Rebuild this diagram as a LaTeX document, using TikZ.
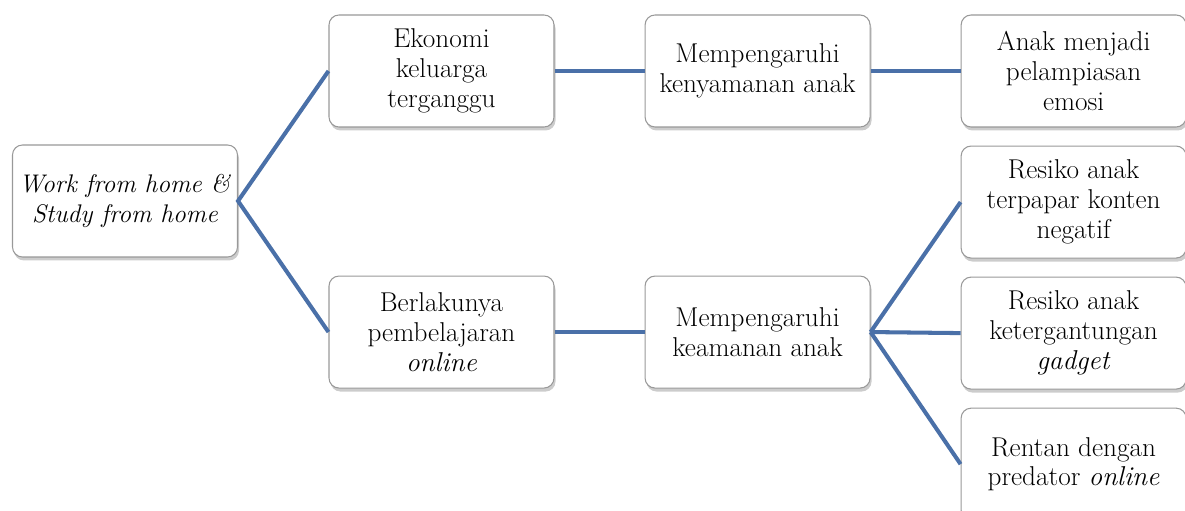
\documentclass[tikz,border=0pt]{standalone}
\usepackage{xcolor}
\usepackage{tikz}
\usetikzlibrary{positioning, shadows, calc}
\definecolor{linkblue}{RGB}{74,112,168}
\tikzstyle{link} = [line width=2.3pt, draw=linkblue]
\tikzstyle{box} = [rectangle, rounded corners=0.2cm, minimum width=4.5cm, minimum height=2.24cm, inner xsep=0.05cm, align=center, draw=gray!80, line width=0.6pt, fill=white, drop shadow={shadow xshift=0.03cm, shadow yshift=-0.07cm, opacity=0.4}, font=\fontsize{15.5}{17}\selectfont]

\begin{document}
\begin{tikzpicture}[node distance=0.36cm and 1.8cm]
    \useasboundingbox (0,0) rectangle (23.7,10.22);

    % Root
    \node[box, font=\fontsize{14.5}{17}\selectfont] (wfh) at (2.5,6.2) {\textit{Work from home \&}\\\textit{Study from home}};

    % Upper branch
    \node[box] (ekonomi) at (8.83,8.8) {Ekonomi\\keluarga\\terganggu};
    \node[box, right=of ekonomi] (nyaman) {Mempengaruhi\\kenyamanan anak};
    \node[box, right=of nyaman] (emosi) {Anak menjadi\\pelampiasan\\emosi};

    % Lower branch
    \node[box, below=2.96cm of ekonomi] (daring) {Berlakunya\\pembelajaran\\\textit{online}};
    \node[box, right=of daring] (aman) {Mempengaruhi\\keamanan anak};

    % Right column
    \node[box, below=of emosi] (konten) {Resiko anak\\terpapar konten\\negatif};
    \node[box, below=of konten] (gadget) {Resiko anak\\ketergantungan\\\textit{gadget}};
    \node[box, below=of gadget] (predator) {Rentan dengan\\predator \textit{online}};

    % Links
    \draw[link] (ekonomi.west) -- (wfh.east) -- (daring.west);
    \draw[link] (ekonomi) -- (nyaman);
    \draw[link] (nyaman) -- (emosi);
    \draw[link] (daring) -- (aman);
    \foreach \n in {konten, gadget, predator}
        \draw[link] (aman.east) -- (\n.west);

\end{tikzpicture}
\end{document}
